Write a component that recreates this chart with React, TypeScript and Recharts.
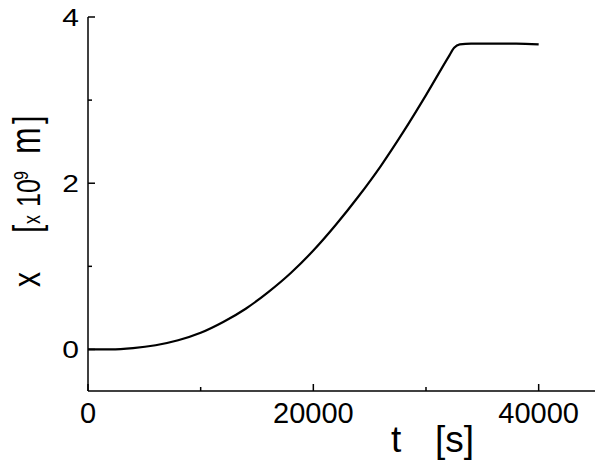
import React from "react";
import { LineChart, Line, XAxis, YAxis } from "recharts";

// time in seconds, position in units of 1e9 m
const tSeconds = [
  0, 2000, 4000, 6000, 8000, 10000, 12000, 14000, 16000, 18000, 20000, 22000,
  24000, 26000, 28000, 30000, 32000, 32500, 33000, 34000, 36000, 38000, 40000,
];
const xPosition = [
  0, 0.0, 0.015, 0.05, 0.11, 0.2, 0.33, 0.49, 0.69, 0.92, 1.19, 1.5, 1.84,
  2.21, 2.62, 3.06, 3.52, 3.63, 3.67, 3.68, 3.68, 3.68, 3.67,
];

const xTicks = [0, 10000, 20000, 30000, 40000];
const xLabelled = [0, 20000, 40000];
const yTicks = [0, 1, 2, 3, 4];
const yLabelled = [0, 2, 4];

const data = tSeconds.map((t, i) => ({ t, x: xPosition[i] }));

const FONT = '"Liberation Sans", Arial, Helvetica, sans-serif';

function XTick(props: any) {
  const { x, y, payload } = props;
  const major = xLabelled.includes(payload.value);
  return (
    <g>
      <line x1={x} x2={x} y1={y} y2={y - (major ? 7 : 4)} stroke="#000" strokeWidth={1.5} />
      {major && (
        <text x={x} y={y + 32} textAnchor="middle" fontSize={29} fontFamily={FONT} fill="#000">
          {payload.value}
        </text>
      )}
    </g>
  );
}

function YTick(props: any) {
  const { x, y, payload } = props;
  const major = yLabelled.includes(payload.value);
  return (
    <g>
      <line x1={x} x2={x + (major ? 7 : 4)} y1={y} y2={y} stroke="#000" strokeWidth={1.5} />
      {major && (
        <text
          transform={`translate(${x - 9},${y}) scale(1.25,1)`}
          textAnchor="end"
          dy="0.36em"
          fontSize={24}
          fontFamily={FONT}
          fill="#000"
        >
          {payload.value}
        </text>
      )}
    </g>
  );
}

function XTitle(props: any) {
  const vb = props.viewBox || { x: 88, y: 391 };
  return (
    <text y={vb.y + 61} fontSize={37} fontFamily={FONT} fill="#000">
      <tspan x={vb.x + 303}>t</tspan>
      <tspan x={vb.x + 347}>[s]</tspan>
    </text>
  );
}

function YTitle(props: any) {
  const vb = props.viewBox || { x: 0, y: 17 };
  return (
    <text
      transform={`translate(${vb.x + 40},${vb.y + 273}) scale(1.3,1) rotate(-90)`}
      fontFamily={FONT}
      fill="#000"
      fontSize={30}
    >
      <tspan x={3}>x</tspan>
      <tspan x={57}>[</tspan>
      <tspan x={66} fontSize={18}>x</tspan>
      <tspan x={83} fontSize={25}>10</tspan>
      <tspan x={110} fontSize={16} dy={-9}>9</tspan>
      <tspan x={136} dy={9} fontSize={32}>m</tspan>
      <tspan x={166} fontSize={30}>]</tspan>
    </text>
  );
}

export default function App() {
  return (
    <div style={{ position: "absolute", left: 0, top: 0, background: "#fff" }}>
      <LineChart
        width={600}
        height={464}
        data={data}
        margin={{ top: 17, right: 5, bottom: 0, left: 0 }}
      >
        <XAxis
          dataKey="t"
          type="number"
          domain={[0, 45000]}
          ticks={xTicks}
          height={73}
          tickLine={false}
          tickSize={0}
          tickMargin={0}
          tick={<XTick />}
          axisLine={{ stroke: "#000", strokeWidth: 1.5 }}
          allowDataOverflow
          label={(p: any) => <XTitle {...p} />}
        />
        <YAxis
          type="number"
          domain={[-0.5, 4]}
          ticks={yTicks}
          width={88}
          tickLine={false}
          tickSize={0}
          tickMargin={0}
          tick={<YTick />}
          axisLine={{ stroke: "#000", strokeWidth: 1.5 }}
          allowDataOverflow
          label={(p: any) => <YTitle {...p} />}
        />
        <Line
          type="monotone"
          dataKey="x"
          stroke="#000"
          strokeWidth={2.2}
          dot={false}
          isAnimationActive={false}
        />
      </LineChart>
    </div>
  );
}
